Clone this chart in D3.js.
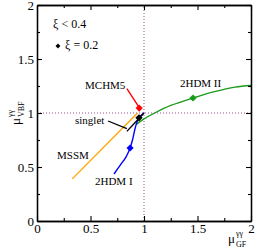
<!DOCTYPE html>
<html>
<head>
<meta charset="utf-8">
<script src="https://cdn.jsdelivr.net/npm/d3@7"></script>
<style>
  body { margin: 0; background: #fff; }
  svg { display: block; }
  svg text { font-family: "Liberation Serif", "DejaVu Serif", serif; }
</style>
</head>
<body>
<script>
const width = 255;
const height = 248;

// curves (mu_GF, mu_VBF), xi < 0.4
const mssm = [[0.33, 0.39], [0.94, 1.0]];
const singlet = [[0.84, 0.83], [1.0, 1.0]];
const mchm5 = [[0.84, 1.225], [0.965, 1.035]];
const hdm1 = [[0.72, 0.435], [0.78, 0.52], [0.83, 0.59], [0.87, 0.676], [0.895, 0.76],
  [0.915, 0.85], [0.94, 0.93], [0.97, 0.975], [1.0, 1.0]];
const hdm2 = [[0.93, 0.895], [1.0, 0.945], [1.1, 1.0], [1.25, 1.07], [1.458, 1.139],
  [1.65, 1.195], [1.85, 1.24], [2.0, 1.255]];

// xi = 0.2 points
const points = [
  { name: 'MCHM5', x: 0.955, y: 1.046, color: '#ff0000' },
  { name: 'singlet', x: 0.953, y: 0.955, color: '#000000' },
  { name: '2HDM I', x: 0.87, y: 0.676, color: '#0000ff' },
  { name: '2HDM II', x: 1.458, y: 1.139, color: '#1a9a1a' }
];

const majorTicks = [0, 0.5, 1, 1.5, 2];
const minorTicks = [0.25, 0.75, 1.25, 1.75];

const labels = [
  { text: 'MCHM5', x: 0.449, y: 1.222 },
  { text: '2HDM II', x: 1.336, y: 1.241 },
  { text: 'singlet', x: 0.355, y: 0.898 },
  { text: 'MSSM', x: 0.187, y: 0.574 },
  { text: '2HDM I', x: 0.542, y: 0.333 }
];

const x = d3.scaleLinear().domain([0, 2]).range([37, 251]);
const y = d3.scaleLinear().domain([0, 2]).range([221, 5]);

const svg = d3.select('body').append('svg')
  .attr('width', width)
  .attr('height', height);

// reference lines at 1
svg.append('line')
  .attr('x1', x(0)).attr('x2', x(2))
  .attr('y1', y(1)).attr('y2', y(1))
  .attr('stroke', '#a0508c').attr('stroke-width', 1)
  .attr('stroke-dasharray', '1,2');
svg.append('line')
  .attr('x1', x(1)).attr('x2', x(1))
  .attr('y1', y(0)).attr('y2', y(2))
  .attr('stroke', '#a0508c').attr('stroke-width', 1)
  .attr('stroke-dasharray', '1,2');

const line = d3.line().x(d => x(d[0])).y(d => y(d[1]));
const smooth = d3.line().x(d => x(d[0])).y(d => y(d[1])).curve(d3.curveCatmullRom);

svg.append('path').datum(mssm).attr('d', line)
  .attr('fill', 'none').attr('stroke', '#ffa500').attr('stroke-width', 1.4);
svg.append('path').datum(hdm2).attr('d', smooth)
  .attr('fill', 'none').attr('stroke', '#1a9a1a').attr('stroke-width', 1.4);
svg.append('path').datum(hdm1).attr('d', smooth)
  .attr('fill', 'none').attr('stroke', '#0000ff').attr('stroke-width', 1.4);
svg.append('path').datum(mchm5).attr('d', line)
  .attr('fill', 'none').attr('stroke', '#ff0000').attr('stroke-width', 1.4);
svg.append('path').datum(singlet).attr('d', line)
  .attr('fill', 'none').attr('stroke', '#000').attr('stroke-width', 1.4);

// singlet pointer
svg.append('line')
  .attr('x1', x(0.664)).attr('y1', y(0.926))
  .attr('x2', x(0.84)).attr('y2', y(0.855))
  .attr('stroke', '#000').attr('stroke-width', 1.3);

// rotated squares as markers
const marker = d3.symbol().type(d3.symbolSquare).size(26);
svg.append('g').selectAll('path')
  .data(points)
  .join('path')
    .attr('d', marker)
    .attr('transform', d => `translate(${x(d.x)},${y(d.y)}) rotate(45)`)
    .attr('fill', d => d.color);

svg.append('g').selectAll('text')
  .data(labels)
  .join('text')
    .attr('x', d => x(d.x))
    .attr('y', d => y(d.y))
    .attr('font-size', 11)
    .text(d => d.text);

// legend
svg.append('text').attr('x', x(0.15)).attr('y', y(1.787))
  .attr('font-size', 12).text('ξ < 0.4');
svg.append('path').attr('d', d3.symbol().type(d3.symbolSquare).size(12))
  .attr('transform', `translate(${x(0.196)},${y(1.62)}) rotate(45)`);
svg.append('text').attr('x', x(0.262)).attr('y', y(1.593))
  .attr('font-size', 12).text('ξ = 0.2');

// axes with inward ticks
function styleAxis(g) {
  g.select('.domain').attr('stroke-width', 1.3);
  g.selectAll('.tick line').attr('stroke-width', 1.1);
  g.selectAll('text').attr('font-size', 13).attr('fill', '#000');
}

svg.append('g').attr('transform', `translate(0,${y(0)})`)
  .call(d3.axisBottom(x).tickValues(majorTicks).tickSizeInner(-5).tickSizeOuter(0).tickPadding(3)
    .tickFormat(d3.format('')))
  .call(styleAxis);
svg.append('g').attr('transform', `translate(0,${y(0)})`)
  .call(d3.axisBottom(x).tickValues(minorTicks).tickSizeInner(-3).tickSizeOuter(0).tickFormat(''))
  .call(styleAxis);
svg.append('g').attr('transform', `translate(0,${y(2)})`)
  .call(d3.axisTop(x).tickValues(majorTicks).tickSizeInner(-5).tickSizeOuter(0).tickFormat(''))
  .call(styleAxis);
svg.append('g').attr('transform', `translate(0,${y(2)})`)
  .call(d3.axisTop(x).tickValues(minorTicks).tickSizeInner(-3).tickSizeOuter(0).tickFormat(''))
  .call(styleAxis);

svg.append('g').attr('transform', `translate(${x(0)},0)`)
  .call(d3.axisLeft(y).tickValues(majorTicks).tickSizeInner(-5).tickSizeOuter(0).tickPadding(3)
    .tickFormat(d3.format('')))
  .call(styleAxis);
svg.append('g').attr('transform', `translate(${x(0)},0)`)
  .call(d3.axisLeft(y).tickValues(minorTicks).tickSizeInner(-3).tickSizeOuter(0).tickFormat(''))
  .call(styleAxis);
svg.append('g').attr('transform', `translate(${x(2)},0)`)
  .call(d3.axisRight(y).tickValues(majorTicks).tickSizeInner(-5).tickSizeOuter(0).tickFormat(''))
  .call(styleAxis);
svg.append('g').attr('transform', `translate(${x(2)},0)`)
  .call(d3.axisRight(y).tickValues(minorTicks).tickSizeInner(-3).tickSizeOuter(0).tickFormat(''))
  .call(styleAxis);

// axis titles
const xt = svg.append('g').attr('transform', 'translate(228,243)');
xt.append('text').attr('font-size', 13).text('μ');
xt.append('text').attr('x', 8).attr('y', -7).attr('font-size', 8).text('γγ');
xt.append('text').attr('x', 8).attr('y', 4).attr('font-size', 8).text('GF');

const yt = svg.append('g').attr('transform', 'translate(20,125) rotate(-90)');
yt.append('text').attr('font-size', 13).text('μ');
yt.append('text').attr('x', 8).attr('y', -7).attr('font-size', 8).text('γγ');
yt.append('text').attr('x', 8).attr('y', 4).attr('font-size', 8).text('VBF');
</script>
</body>
</html>
